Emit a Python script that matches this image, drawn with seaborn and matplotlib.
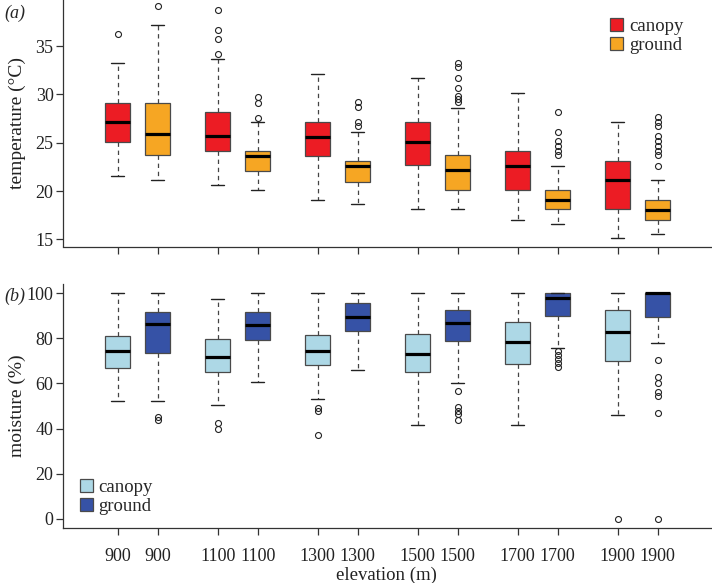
import glob
import matplotlib
matplotlib.use("Agg")
import matplotlib.pyplot as plt
from matplotlib import font_manager as fm
from matplotlib.patches import Patch
import seaborn as sns

# ---------------- data ----------------
elevations = [900, 1100, 1300, 1500, 1700, 1900]
groups = ["canopy", "ground"]

# temperature (°C) box statistics
temp_canopy_whislo = [21.6, 20.6, 19.1, 18.1, 17.05, 15.1]
temp_canopy_q1 = [25.1, 24.2, 23.6, 22.7, 20.1, 18.1]
temp_canopy_med = [27.15, 25.65, 25.6, 25.1, 22.6, 21.1]
temp_canopy_q3 = [29.1, 28.15, 27.15, 27.1, 24.2, 23.1]
temp_canopy_whishi = [33.3, 33.7, 32.1, 31.7, 30.1, 27.2]
temp_canopy_fliers = [[36.25], [34.2, 35.7, 36.7, 38.7], [], [], [], []]

temp_ground_whislo = [21.2, 20.1, 18.7, 18.1, 16.6, 15.6]
temp_ground_q1 = [23.7, 22.1, 20.9, 20.1, 18.1, 17.05]
temp_ground_med = [25.9, 23.6, 22.6, 22.15, 19.1, 18.05]
temp_ground_q3 = [29.1, 24.1, 23.15, 23.7, 20.1, 19.05]
temp_ground_whishi = [37.2, 27.1, 26.1, 28.6, 22.6, 21.1]
temp_ground_fliers = [[39.2],
                      [27.6, 29.1, 29.7],
                      [26.7, 27.2, 28.7, 29.2],
                      [29.2, 29.5, 29.8, 30.7, 31.7, 32.8, 33.3],
                      [23.7, 24.2, 24.7, 25.2, 26.1, 28.2],
                      [22.6, 23.7, 24.2, 24.7, 25.2, 25.7, 26.7, 27.2, 27.7]]

# moisture (%) box statistics
moist_canopy_whislo = [52.1, 50.3, 53.1, 41.5, 41.8, 45.8]
moist_canopy_q1 = [66.8, 65.2, 68.3, 65.0, 68.5, 69.8]
moist_canopy_med = [74.2, 71.9, 74.5, 73.0, 78.5, 82.6]
moist_canopy_q3 = [80.8, 79.8, 81.4, 81.7, 87.3, 92.5]
moist_canopy_whishi = [100, 97.3, 100, 100, 100, 100]
moist_canopy_fliers = [[], [40.0, 42.5], [37.0, 47.8, 49.1], [], [], [0]]

moist_ground_whislo = [52.1, 60.8, 66.1, 60.0, 75.7, 78.1]
moist_ground_q1 = [73.6, 79.2, 83.1, 78.8, 89.8, 89.2]
moist_ground_med = [86.5, 86.0, 89.2, 86.6, 98.0, 99.8]
moist_ground_q3 = [91.6, 91.5, 95.6, 92.5, 100, 100]
moist_ground_whishi = [100, 100, 100, 100, 100, 100]
moist_ground_fliers = [[44.0, 45.1], [], [], [43.7, 46.3, 47.8, 49.7, 56.6],
                       [67.4, 69.2, 70.8, 72.4, 74.2],
                       [0, 46.8, 54.3, 56.2, 60.0, 63.0, 70.5]]

temp_ticks = [15, 20, 25, 30, 35]
moist_ticks = [0, 20, 40, 60, 80, 100]

# ---------------- style ----------------
sns.set_style("ticks")


def pick_serif():
    names = {f.name for f in fm.fontManager.ttflist}
    for cand in ["Liberation Serif", "Times New Roman", "Nimbus Roman",
                 "Nimbus Roman No9 L", "TeX Gyre Termes", "FreeSerif"]:
        if cand in names:
            return cand
    for pat in ["/usr/share/fonts/**/LiberationSerif-*.ttf",
                "/usr/share/fonts/**/*Times*.ttf",
                "/usr/share/fonts/**/*Termes*.otf"]:
        files = glob.glob(pat, recursive=True)
        if files:
            for f in files:
                try:
                    fm.fontManager.addfont(f)
                except Exception:
                    pass
            return fm.FontProperties(fname=files[0]).get_name()
    return "DejaVu Serif"


SERIF = pick_serif()
plt.rcParams["font.family"] = [SERIF, "DejaVu Serif"]

COL = {"temp": ["#EC1C24", "#F6A623"], "moist": ["#ADD8E6", "#3652A6"]}
FS = 13      # tick labels
FS_LAB = 14  # axis titles
FS_LEG = 13.5  # legend


def make_stats(wl, q1, med, q3, wh, fl):
    return [dict(whislo=a, q1=b, med=c, q3=d, whishi=e, fliers=f)
            for a, b, c, d, e, f in zip(wl, q1, med, q3, wh, fl)]


temp_stats = [make_stats(temp_canopy_whislo, temp_canopy_q1, temp_canopy_med,
                         temp_canopy_q3, temp_canopy_whishi, temp_canopy_fliers),
              make_stats(temp_ground_whislo, temp_ground_q1, temp_ground_med,
                         temp_ground_q3, temp_ground_whishi, temp_ground_fliers)]
moist_stats = [make_stats(moist_canopy_whislo, moist_canopy_q1, moist_canopy_med,
                          moist_canopy_q3, moist_canopy_whishi, moist_canopy_fliers),
               make_stats(moist_ground_whislo, moist_ground_q1, moist_ground_med,
                          moist_ground_q3, moist_ground_whishi, moist_ground_fliers)]

# positions: pairs of boxes, 1 unit apart, pairs 2.5 units apart
positions, order, labels = [], [], []
for i, e in enumerate(elevations):
    for g in range(2):
        positions.append(1 + 2.5 * i + g)
        order.append((g, i))
        labels.append(str(e))

W, H = 712, 583
fig = plt.figure(figsize=(W / 100, H / 100), dpi=100)
ax1 = fig.add_axes([63.3 / W, 1 - 246.5 / H, (W - 63.3) / W, 246.5 / H])
ax2 = fig.add_axes([63.3 / W, 1 - 528 / H, (W - 63.3) / W, (528 - 284) / H])

EDGE = "#333333"


def draw(ax, stats, colors):
    sts = [stats[g][i] for g, i in order]
    bp = ax.bxp(sts, positions=positions, widths=0.62, patch_artist=True,
                showfliers=True,
                boxprops=dict(edgecolor="#4a4a4a", linewidth=0.9),
                medianprops=dict(color="black", linewidth=2.3, solid_capstyle="butt"),
                whiskerprops=dict(color="#444444", linewidth=0.9, linestyle=(0, (3.5, 3))),
                capprops=dict(color="#222222", linewidth=1.0),
                flierprops=dict(marker="o", markersize=4.3, markerfacecolor="none",
                                markeredgecolor="#222222", markeredgewidth=0.8,
                                linestyle="none"))
    for patch, (g, i) in zip(bp["boxes"], order):
        patch.set_facecolor(colors[g])
    ax.set_xlim(-0.36, 15.86)
    ax.set_xticks(positions)
    for s in ["top", "right"]:
        ax.spines[s].set_visible(False)
    for s in ["left", "bottom"]:
        ax.spines[s].set_color(EDGE)
        ax.spines[s].set_linewidth(0.9)
    ax.tick_params(direction="out", length=5, width=0.9, color=EDGE,
                   labelsize=FS, labelcolor="#222222")
    ax.tick_params(axis="y", pad=2)
    ax.tick_params(axis="x", pad=9.5)
    ax.set_facecolor("white")


draw(ax1, temp_stats, COL["temp"])
draw(ax2, moist_stats, COL["moist"])

ax1.set_ylim(14.27, 39.77)
ax1.set_yticks(temp_ticks)
ax1.set_yticklabels([str(t) for t in temp_ticks])
ax1.set_xticklabels([""] * len(positions))
ax1.set_ylabel("temperature (°C)", fontsize=FS_LAB, color="#222222")
ax1.yaxis.set_label_coords(-0.057, 0.5)

ax2.set_ylim(-4, 104)
ax2.set_yticks(moist_ticks)
ax2.set_yticklabels([str(t) for t in moist_ticks])
ax2.set_xticklabels(labels)
ax2.set_ylabel("moisture (%)", fontsize=FS_LAB, color="#222222")
ax2.yaxis.set_label_coords(-0.057, 0.5)
ax2.set_xlabel("elevation (m)", fontsize=13.5, color="#222222")
ax2.xaxis.set_label_coords(0.4975, -0.158)

# legends
leg_kw = dict(frameon=False, handlelength=0.7, handleheight=0.7,
              handletextpad=0.3, labelspacing=0.1, borderpad=0, borderaxespad=0,
              fontsize=FS_LEG)
h1 = [Patch(facecolor=c, edgecolor="#4a4a4a", linewidth=0.9, label=g)
      for c, g in zip(COL["temp"], groups)]
ax1.legend(handles=h1, loc="upper left", bbox_to_anchor=(0.843, 0.927), **leg_kw)
h2 = [Patch(facecolor=c, edgecolor="#4a4a4a", linewidth=0.9, label=g)
      for c, g in zip(COL["moist"], groups)]
ax2.legend(handles=h2, loc="lower left", bbox_to_anchor=(0.0257, 0.054), **leg_kw)

fig.text(4 / W, 1 - 13 / H, "(a)", fontsize=FS, style="italic", va="center", ha="left")
fig.text(4 / W, 1 - 296 / H, "(b)", fontsize=FS, style="italic", va="center", ha="left")

fig.savefig("out.png", dpi=100, facecolor="white")
